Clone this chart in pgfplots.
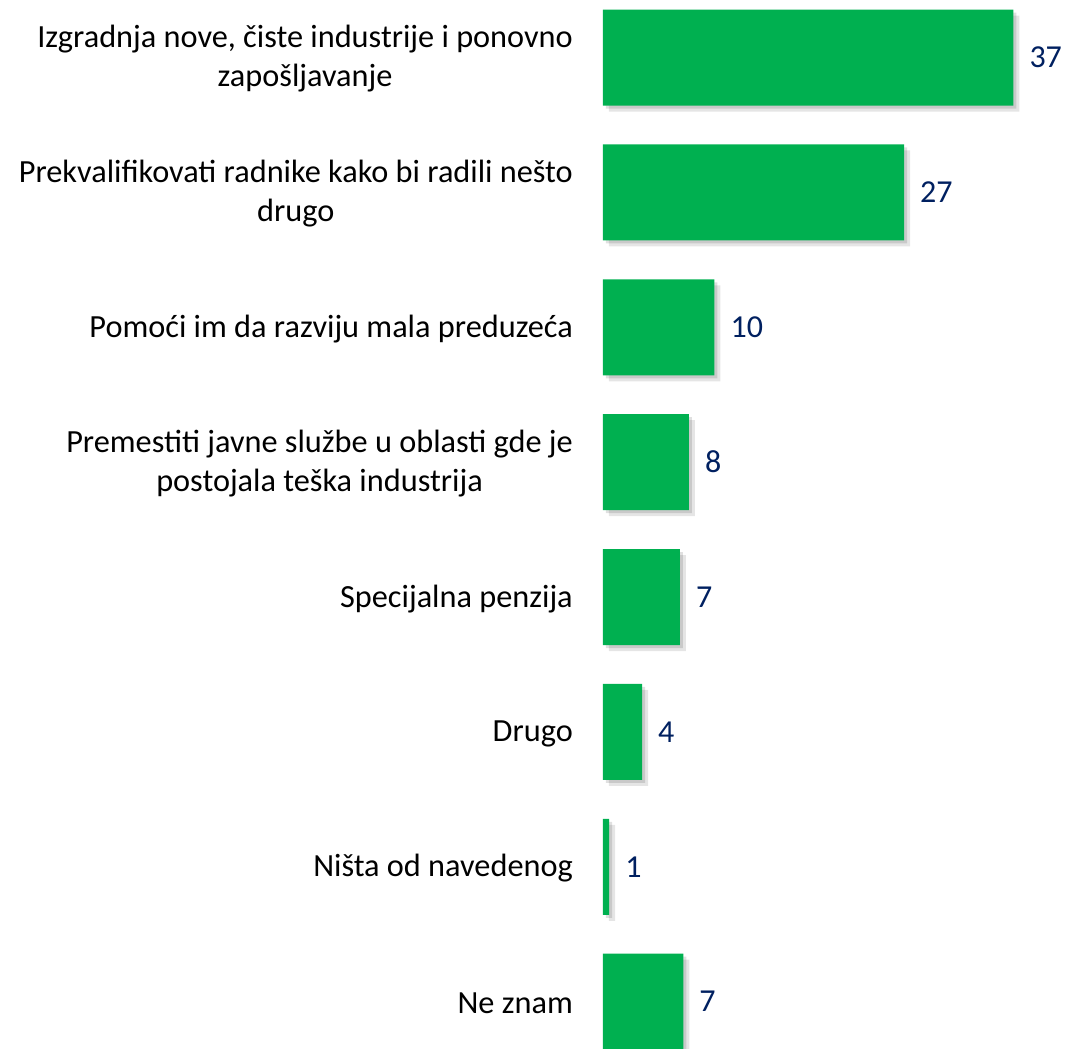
\documentclass[border=0pt]{standalone}
\usepackage{pgfplots}
\pgfplotsset{compat=1.18}
\usepackage{fontspec}
\setmainfont{Carlito}
\definecolor{bargreen}{HTML}{00B050}
\definecolor{navy}{HTML}{002060}
\begin{document}
\begin{tikzpicture}
\useasboundingbox (0,0) rectangle (1066pt,-1049pt);
\begin{axis}[
  at={(603pt,9.95pt)}, anchor=north west,
  scale only axis, width=446pt, height=1079.2pt,
  xbar, bar width=96pt, bar shift=0pt,
  xmin=0, xmax=40, ymin=-0.5, ymax=7.5, y dir=reverse,
  axis line style={draw=none},
  xtick=\empty, ytick={0,1,2,3,4,5,6,7}, major tick length=0pt,
  yticklabels={{Izgradnja nove, čiste industrije i ponovno\\zapošljavanje},
    {Prekvalifikovati radnike kako bi radili nešto\\drugo},
    {Pomoći im da razviju mala preduzeća},
    {Premestiti javne službe u oblasti gde je\\postojala teška industrija},
    {Specijalna penzija},
    {Drugo},
    {Ništa od navedenog},
    {Ne znam}},
  yticklabel style={font=\fontsize{32.3}{39}\selectfont, align=center, anchor=east, inner sep=0pt, xshift=-30pt, yshift=-1.5pt},
  clip=false,
]
\addplot[draw=none, fill=black, opacity=0.10, xshift=6pt, yshift=-6pt, forget plot] coordinates {
  (36.8,0) (27.0,1) (10.0,2) (7.7,3) (6.9,4) (3.5,5) (0.55,6) (7.2,7)};
\addplot[draw=none, fill=black, opacity=0.12, xshift=3pt, yshift=-3pt, forget plot] coordinates {
  (36.8,0) (27.0,1) (10.0,2) (7.7,3) (6.9,4) (3.5,5) (0.55,6) (7.2,7)};
\addplot[draw=none, fill=bargreen, point meta=explicit symbolic,
  nodes near coords={\pgfplotspointmeta},
  every node near coord/.style={anchor=west, inner sep=0pt, xshift=16pt, text=navy, font=\fontsize{32}{38}\selectfont}]
  coordinates {
  (36.8,0) [37] (27.0,1) [27] (10.0,2) [10] (7.7,3) [8] (6.9,4) [7] (3.5,5) [4] (0.55,6) [1] (7.2,7) [7]};
\end{axis}
\end{tikzpicture}
\end{document}
